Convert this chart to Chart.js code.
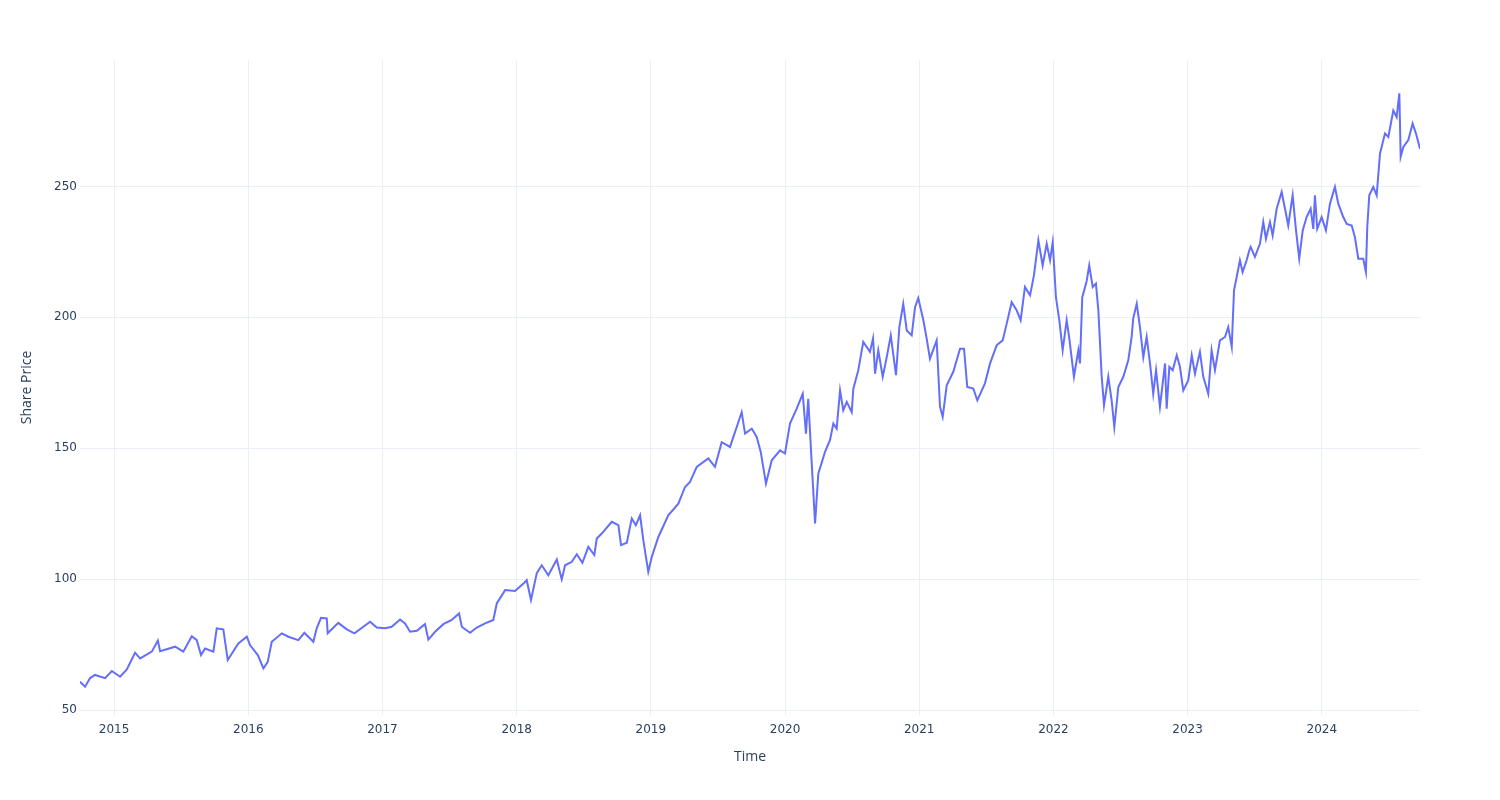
<!DOCTYPE html>
<html><head><meta charset="utf-8">
<script src="https://cdn.jsdelivr.net/npm/chart.js@4.4.1/dist/chart.umd.min.js"></script>
<style>html,body{margin:0;padding:0;background:#fff}#wrap{width:1500px;height:800px;position:relative}canvas{display:block}</style>
</head><body><div id="wrap"><canvas id="c" width="1500" height="800" style="width:1500px;height:800px"></canvas></div>
<script>
// Time in decimal years
const times = [
2014.746,2014.784,2014.821,2014.858,2014.933,2014.983,2015.045,2015.095,2015.156,2015.194,
2015.281,2015.326,2015.343,2015.455,2015.516,2015.579,2015.616,2015.648,2015.678,2015.740,
2015.765,2015.814,2015.847,2015.926,2015.989,2016.013,2016.071,2016.113,2016.145,2016.175,
2016.250,2016.299,2016.373,2016.418,2016.485,2016.510,2016.542,2016.585,2016.592,2016.671,
2016.734,2016.791,2016.908,2016.958,2017.019,2017.069,2017.131,2017.168,2017.206,2017.256,
2017.317,2017.342,2017.392,2017.454,2017.516,2017.571,2017.591,2017.653,2017.703,2017.765,
2017.826,2017.852,2017.914,2017.988,2018.057,2018.075,2018.107,2018.150,2018.187,2018.236,
2018.299,2018.336,2018.361,2018.411,2018.448,2018.490,2018.534,2018.579,2018.597,2018.634,
2018.709,2018.758,2018.778,2018.821,2018.858,2018.888,2018.920,2018.944,2018.981,2019.007,
2019.056,2019.130,2019.205,2019.255,2019.292,2019.342,2019.428,2019.478,2019.528,2019.590,
2019.640,2019.677,2019.702,2019.752,2019.789,2019.819,2019.858,2019.901,2019.963,2020.000,
2020.037,2020.087,2020.132,2020.156,2020.173,2020.199,2020.224,2020.248,2020.298,2020.335,
2020.360,2020.385,2020.410,2020.434,2020.460,2020.497,2020.509,2020.546,2020.583,2020.633,
2020.656,2020.671,2020.695,2020.728,2020.758,2020.788,2020.827,2020.852,2020.881,2020.907,
2020.944,2020.969,2020.993,2021.031,2021.056,2021.080,2021.130,2021.155,2021.175,2021.205,
2021.254,2021.304,2021.334,2021.358,2021.403,2021.433,2021.490,2021.528,2021.577,2021.622,
2021.652,2021.689,2021.726,2021.756,2021.788,2021.826,2021.855,2021.888,2021.920,2021.950,
2021.975,2021.995,2022.019,2022.044,2022.069,2022.099,2022.119,2022.153,2022.186,2022.198,
2022.215,2022.248,2022.267,2022.293,2022.317,2022.335,2022.360,2022.377,2022.409,2022.434,
2022.454,2022.484,2022.521,2022.558,2022.583,2022.595,2022.621,2022.645,2022.670,2022.695,
2022.720,2022.744,2022.765,2022.794,2022.832,2022.844,2022.864,2022.889,2022.919,2022.943,
2022.968,2023.005,2023.031,2023.055,2023.092,2023.117,2023.154,2023.179,2023.204,2023.241,
2023.279,2023.303,2023.329,2023.346,2023.366,2023.390,2023.410,2023.440,2023.460,2023.470,
2023.502,2023.539,2023.564,2023.584,2023.614,2023.634,2023.664,2023.701,2023.726,2023.750,
2023.783,2023.808,2023.832,2023.858,2023.887,2023.917,2023.937,2023.949,2023.966,2023.999,
2024.031,2024.061,2024.098,2024.123,2024.160,2024.186,2024.223,2024.247,2024.272,2024.309,
2024.329,2024.339,2024.354,2024.384,2024.409,2024.434,2024.471,2024.496,2024.533,2024.558,
2024.578,2024.588,2024.608,2024.645,2024.677,2024.702,2024.732
];
const prices = [
60.8,58.9,62.2,63.4,62.2,64.9,62.7,65.5,71.9,69.7,
72.3,76.5,72.5,74.2,72.3,78.2,76.7,71.0,73.5,72.3,
81.2,80.8,69.1,75.4,78.0,74.8,71.0,65.9,68.4,76.1,
79.3,78.0,76.7,79.5,76.1,81.2,85.2,85.0,79.3,83.3,
80.8,79.3,83.7,81.5,81.2,81.8,84.6,83.1,79.9,80.3,
82.8,76.9,79.9,82.8,84.4,86.9,81.8,79.5,81.5,83.1,
84.4,90.7,95.8,95.5,98.6,99.6,92.0,102.3,105.3,101.5,
107.5,99.9,105.3,106.6,109.5,106.2,112.3,109.2,115.5,117.4,
121.9,120.6,113.0,113.9,123.2,120.6,124.4,114.9,102.8,108.5,
116.1,124.4,128.8,135.2,137.1,142.9,146.1,142.9,152.3,150.5,
158.1,163.8,155.6,157.5,154.3,148.6,136.5,145.4,149.2,148.0,
159.4,165.1,170.8,155.6,168.9,144.2,121.3,140.3,148.6,153.1,
159.4,157.5,172.1,164.5,167.7,163.8,172.7,179.8,190.6,186.8,
192.0,178.5,187.4,177.3,184.8,193.1,177.9,196.3,205.2,195.0,
193.1,203.9,207.4,198.9,191.8,184.2,191.2,165.8,162.0,174.0,
179.2,188.0,188.0,173.4,172.8,168.3,174.8,182.4,189.3,191.2,
197.6,205.8,202.7,198.9,211.6,208.4,216.0,229.4,219.8,228.1,
221.8,228.7,207.6,198.9,187.4,198.9,191.8,177.3,187.4,182.4,
207.6,213.9,219.8,211.6,212.9,202.7,177.3,166.4,177.3,168.3,
158.1,173.4,177.3,183.6,192.5,199.6,205.2,196.3,184.8,192.5,
182.4,170.8,179.8,165.8,182.4,165.1,181.1,179.8,185.5,181.1,
172.1,175.9,185.5,178.5,186.8,177.3,170.8,187.4,179.8,191.2,
192.5,196.3,188.7,210.3,215.4,221.8,217.3,221.8,225.6,226.9,
223.1,228.1,236.4,230.0,236.4,231.3,241.5,247.9,241.5,235.1,
246.6,233.2,222.4,233.2,238.3,241.5,233.8,246.6,233.8,238.3,
233.2,243.4,249.8,243.4,238.3,235.7,235.1,230.6,222.4,222.4,
217.3,234.5,246.6,249.8,246.6,262.6,270.2,268.9,279.0,276.5,
285.6,261.3,265.1,267.7,274.0,270.2,264.4
];
const yearTicks = [2015,2016,2017,2018,2019,2020,2021,2022,2023,2024];
const priceTicks = [50,100,150,200,250];
const xTitle = 'Time';
const yTitle = 'Share Price';

const points = times.map((t, i) => ({x: t, y: prices[i]}));
const tickFont = {family: 'DejaVu Sans', size: 12};
const titleFont = {family: 'Open Sans', size: 14};
const textColor = '#2a3f5f';
const gridColor = '#ebf0f8';

new Chart(document.getElementById('c'), {
  type: 'line',
  data: {datasets: [{
    data: points,
    borderColor: '#636efa',
    borderWidth: 2,
    pointRadius: 0,
    tension: 0,
    fill: false
  }]},
  options: {
    responsive: false,
    animation: false,
    devicePixelRatio: 1,
    layout: {padding: {left: 0, right: 80, top: 60, bottom: 0}},
    plugins: {legend: {display: false}, tooltip: {enabled: false}},
    scales: {
      x: {
        type: 'linear',
        min: times[0],
        max: times[times.length - 1],
        afterBuildTicks: s => { s.ticks = yearTicks.map(v => ({value: v})); },
        afterFit: s => { s.height = 85; },
        ticks: {callback: v => String(v), font: tickFont, color: textColor, padding: 8, maxRotation: 0, autoSkip: false},
        grid: {color: gridColor, lineWidth: 1, drawTicks: false},
        border: {display: false},
        title: {display: true, text: xTitle, font: titleFont, color: textColor, padding: {top: 0, bottom: 35}}
      },
      y: {
        type: 'linear',
        min: 48.1,
        max: 298.3,
        afterBuildTicks: s => { s.ticks = priceTicks.map(v => ({value: v})); },
        afterFit: s => { s.width = 80; },
        ticks: {callback: v => String(v), font: tickFont, color: textColor, padding: 3},
        grid: {color: gridColor, lineWidth: 1, drawTicks: false},
        border: {display: false},
        title: {display: true, text: yTitle, font: titleFont, color: textColor, padding: {top: 18.6, bottom: 0}}
      }
    }
  }
});
</script>
</body></html>
